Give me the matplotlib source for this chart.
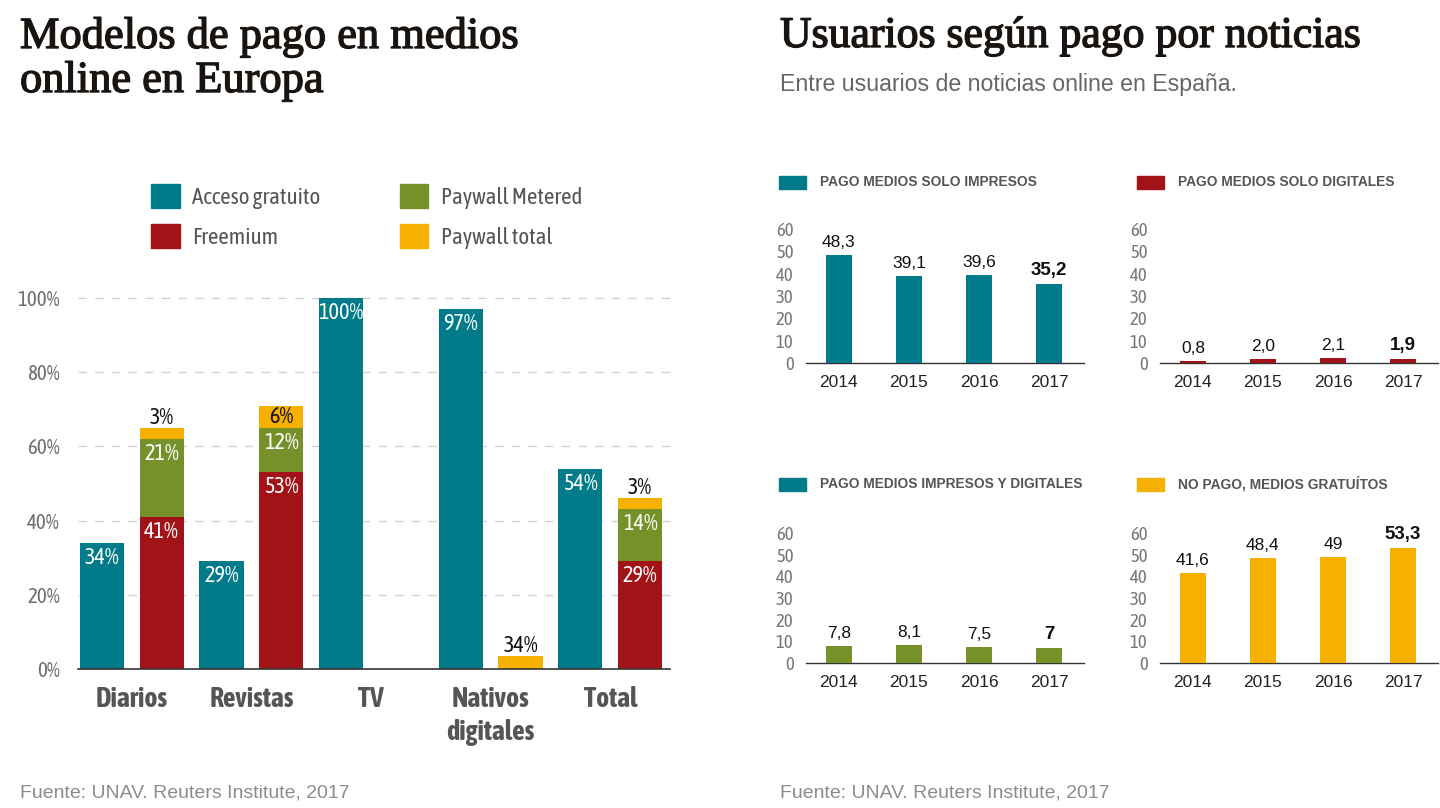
import matplotlib
matplotlib.use("Agg")
import matplotlib.pyplot as plt
from matplotlib.patches import Patch, Rectangle
from matplotlib.font_manager import FontProperties, fontManager, weight_dict
import matplotlib.patheffects as pe

# ---------------- data ----------------
categories = ["Diarios", "Revistas", "TV", "Nativos\ndigitales", "Total"]
acceso_gratuito = [34, 29, 100, 97, 54]
freemium = [41, 53, 0, 0, 29]
paywall_metered = [21, 12, 0, 0, 14]
paywall_total = [3, 6, 0, 3.5, 3]
acceso_labels = ["34%", "29%", "100%", "97%", "54%"]
freemium_labels = ["41%", "53%", "", "", "29%"]
metered_labels = ["21%", "12%", "", "", "14%"]
total_labels = ["3%", "6%", "", "34%", "3%"]
left_yticks = [0, 20, 40, 60, 80, 100]
left_yticklabels = ["0%", "20%", "40%", "60%", "80%", "100%"]

years = ["2014", "2015", "2016", "2017"]
solo_impresos = [48.3, 39.1, 39.6, 35.2]
solo_impresos_lbl = ["48,3", "39,1", "39,6", "35,2"]
solo_digitales = [0.8, 2.0, 2.1, 1.9]
solo_digitales_lbl = ["0,8", "2,0", "2,1", "1,9"]
impresos_digitales = [7.8, 8.1, 7.5, 7]
impresos_digitales_lbl = ["7,8", "8,1", "7,5", "7"]
no_pago = [41.6, 48.4, 49, 53.3]
no_pago_lbl = ["41,6", "48,4", "49", "53,3"]
small_yticks = [0, 10, 20, 30, 40, 50, 60]

# ---------------- style ----------------
TEAL = "#017A89"
RED = "#A21318"
GREEN = "#76912A"
YELLOW = "#F5B000"
SANS = ["Liberation Sans", "DejaVu Sans"]
SERIF = ["Liberation Serif", "DejaVu Serif"]


def _w(v):
    if isinstance(v, str):
        return weight_dict.get(v, 400)
    return int(v)


# find a condensed sans family, preferring one with both regular and bold faces
_cands = {}
for f in fontManager.ttflist:
    if ("Narrow" in f.name or "Condensed" in f.name) and f.style == "normal":
        _cands.setdefault(f.name, set()).add(_w(f.weight))
_narrow_family, _narrow_scale = None, 1.0
_best = -1
for name, ws in _cands.items():
    score = (2 if any(w >= 600 for w in ws) else 0) + (1 if any(350 <= w <= 500 for w in ws) else 0)
    if score > _best:
        _best, _narrow_family = score, name
if _narrow_family is None:
    _narrow_family, _narrow_scale = "Liberation Sans", 0.88


def narrow(size, weight="normal"):
    return FontProperties(family=[_narrow_family, "DejaVu Sans"],
                          size=size * _narrow_scale, weight=weight)


W, H = 1440, 808
fig = plt.figure(figsize=(W / 100, H / 100), dpi=100)
fig.patch.set_facecolor("white")


def fx(px):
    return px / W


def fy(py):
    return 1 - py / H


def axes_px(x0, x1, ytop, ybot):
    return fig.add_axes([fx(x0), fy(ybot), (x1 - x0) / W, (ybot - ytop) / H])


# ---------------- titles ----------------
stroke = [pe.withStroke(linewidth=1.0, foreground="#1a1411")]
fig.text(fx(20), fy(48), "Modelos de pago en medios", fontsize=32, family=SERIF,
         color="#1a1411", va="baseline", ha="left", path_effects=stroke)
fig.text(fx(20), fy(92), "online en Europa", fontsize=32, family=SERIF,
         color="#1a1411", va="baseline", ha="left", path_effects=stroke)
fig.text(fx(780), fy(47), "Usuarios según pago por noticias", fontsize=31.5, family=SERIF,
         color="#1a1411", va="baseline", ha="left", path_effects=stroke)
fig.text(fx(780), fy(85), "Entre usuarios de noticias online en España.", fontsize=16.7,
         family=SANS, color="#666666", va="center", ha="left")
fig.text(fx(20), fy(793), "Fuente: UNAV. Reuters Institute, 2017", fontsize=14,
         family=SANS, color="#8c8c8c", va="center", ha="left")
fig.text(fx(780), fy(793), "Fuente: UNAV. Reuters Institute, 2017", fontsize=14,
         family=SANS, color="#8c8c8c", va="center", ha="left")

# ---------------- left chart ----------------
ax = axes_px(78, 670, 298, 669)
n = len(categories)
xa = [2 * i for i in range(n)]
xs = [2 * i + 1 for i in range(n)]
bw = 0.74

b_acc = ax.bar(xa, acceso_gratuito, bw, color=TEAL, zorder=3)
b_fre = ax.bar(xs, freemium, bw, color=RED, zorder=3)
bottom2 = [a for a in freemium]
b_met = ax.bar(xs, paywall_metered, bw, bottom=bottom2, color=GREEN, zorder=3)
bottom3 = [a + b for a, b in zip(freemium, paywall_metered)]
b_tot = ax.bar(xs, paywall_total, bw, bottom=bottom3, color=YELLOW, zorder=3)

ax.set_xlim(-0.40, 9.50)
ax.set_ylim(0, 100)
for s in ["top", "right", "left"]:
    ax.spines[s].set_visible(False)
ax.spines["bottom"].set_color("#333333")
ax.spines["bottom"].set_linewidth(1.2)
ax.spines["bottom"].set_zorder(4)
ax.set_yticks(left_yticks)
ax.set_yticklabels(left_yticklabels, fontproperties=narrow(15), color="#6e6e6e")
ax.tick_params(axis="y", length=0, pad=13)
ax.set_xticks([2 * i + 0.5 for i in range(n)])
ax.set_xticklabels(categories, fontproperties=narrow(20, "bold"),
                   color="#555555", linespacing=1.3, va="top")
ax.tick_params(axis="x", length=0, pad=12)
for y in left_yticks[1:]:
    ax.axhline(y, color="#d2d2d2", lw=1, ls=(0, (6, 6)), zorder=1, clip_on=False)

lab_fp = narrow(16)


def inside_labels(bars, labels, tops):
    for rect, lab, top in zip(bars, labels, tops):
        if not lab:
            continue
        ax.annotate(lab, (rect.get_x() + rect.get_width() / 2, top),
                    xytext=(0, -15), textcoords="offset pixels", ha="center",
                    va="center", color="white", fontproperties=lab_fp, zorder=5)


inside_labels(b_acc, acceso_labels, acceso_gratuito)
inside_labels(b_fre, freemium_labels, freemium)
inside_labels(b_met, metered_labels, [a + b for a, b in zip(freemium, paywall_metered)])
for rect, lab, val, base in zip(b_tot, total_labels, paywall_total, bottom3):
    if not lab:
        continue
    cx = rect.get_x() + rect.get_width() / 2
    if val >= 5:
        ax.annotate(lab, (cx, base + val / 2), ha="center", va="center",
                    color="#111111", fontproperties=lab_fp, zorder=5)
    else:
        ax.annotate(lab, (cx, base + val), xytext=(0, 10), textcoords="offset pixels",
                    ha="center", va="center", color="#111111", fontproperties=lab_fp,
                    zorder=5)

# legend
handles = [Patch(color=TEAL, label="Acceso gratuito"),
           Patch(color=RED, label="Freemium"),
           Patch(color=GREEN, label="Paywall Metered"),
           Patch(color=YELLOW, label="Paywall total")]
leg_fp = narrow(16.5)
leg = fig.legend(handles=handles, ncol=2, loc="upper left",
                 bbox_to_anchor=(fx(142), fy(175)), frameon=False,
                 prop=leg_fp, handlelength=1.25, handleheight=1.25, handletextpad=0.55,
                 columnspacing=3.45, labelspacing=0.66, borderaxespad=0)
for t in leg.get_texts():
    t.set_color("#555555")

# ---------------- small multiples ----------------
panels = [
    (806, 1084, 229, 363, solo_impresos, solo_impresos_lbl, TEAL, TEAL,
     "PAGO MEDIOS SOLO IMPRESOS", 779, 182),
    (1160, 1438, 229, 363, solo_digitales, solo_digitales_lbl, RED, RED,
     "PAGO MEDIOS SOLO DIGITALES", 1137, 182),
    (806, 1084, 533, 663, impresos_digitales, impresos_digitales_lbl, GREEN, TEAL,
     "PAGO MEDIOS IMPRESOS Y DIGITALES", 779, 484),
    (1160, 1438, 533, 663, no_pago, no_pago_lbl, YELLOW, YELLOW,
     "NO PAGO, MEDIOS GRATUÍTOS", 1137, 484),
]
tick_fp = narrow(13.5)
for (x0, x1, yt, yb, vals, labs, col, hcol, head, hx, hy) in panels:
    a = axes_px(x0, x1, yt, yb)
    pos = list(range(len(years)))
    bars = a.bar(pos, vals, 0.37, color=col, zorder=3)
    a.set_xlim(-0.47, 3.5)
    a.set_ylim(0, 60)
    for s in ["top", "right", "left"]:
        a.spines[s].set_visible(False)
    a.spines["bottom"].set_color("#333333")
    a.spines["bottom"].set_linewidth(1.0)
    a.set_yticks(small_yticks)
    a.set_yticklabels([str(v) for v in small_yticks], fontproperties=tick_fp,
                      color="#777777")
    a.tick_params(axis="y", length=0, pad=9)
    a.set_xticks(pos)
    a.set_xticklabels(years, family=SANS, fontsize=12.5, color="#222222")
    a.tick_params(axis="x", length=0, pad=8.5)
    for i, (rect, lab) in enumerate(zip(bars, labs)):
        last = i == len(labs) - 1
        a.annotate(lab, (rect.get_x() + rect.get_width() / 2, rect.get_height()),
                   xytext=(0, 5), textcoords="offset pixels", ha="center", va="bottom",
                   fontsize=13.5 if last else 12.5, fontweight="bold" if last else "normal",
                   family=SANS, color="#111111")
    fig.patches.append(Rectangle((fx(hx), fy(hy + 6.5)), 27 / W, 13 / H,
                                 transform=fig.transFigure, color=hcol, zorder=2))
    fig.text(fx(hx + 41), fy(hy), head, family=SANS, fontsize=9.9, fontweight="bold",
             color="#555555", va="center", ha="left")

fig.savefig("out.png", dpi=100, facecolor="white")
